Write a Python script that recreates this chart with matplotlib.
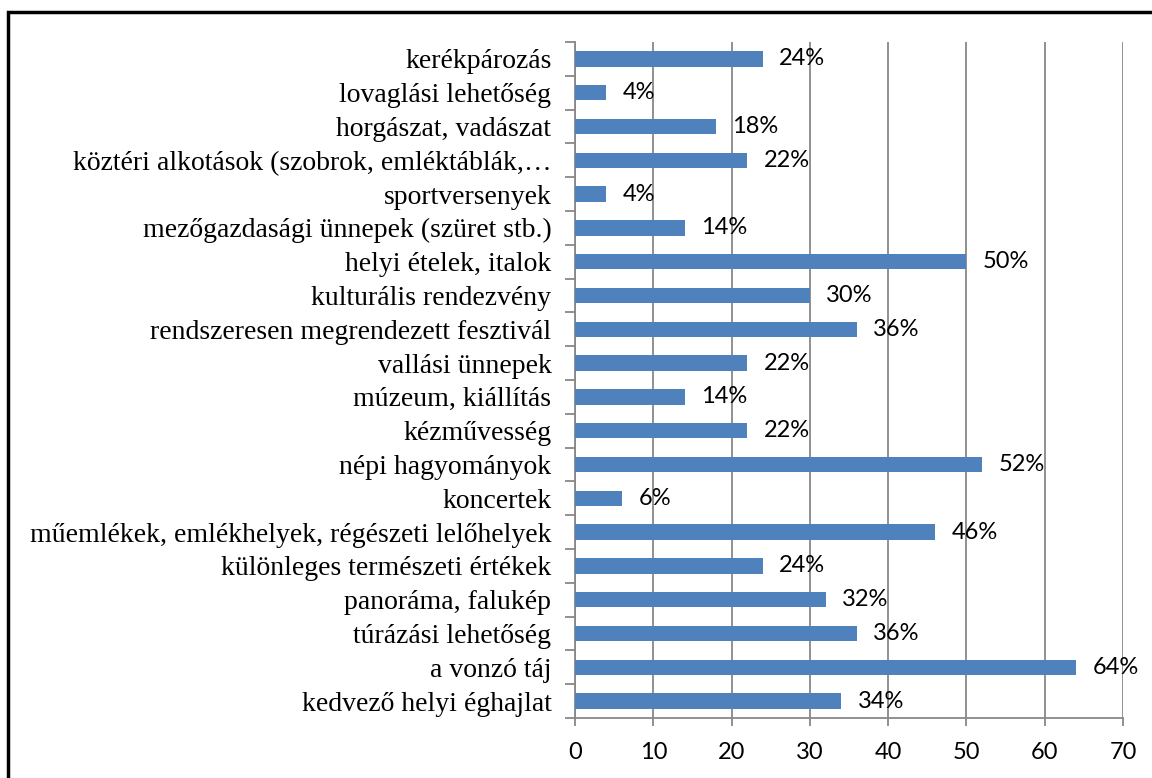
import matplotlib
matplotlib.use("Agg")
import matplotlib.pyplot as plt
from matplotlib.patches import Rectangle
from matplotlib.ticker import FixedLocator

categories = [
    "kedvező helyi éghajlat",
    "a vonzó táj",
    "túrázási lehetőség",
    "panoráma, falukép",
    "különleges természeti értékek",
    "műemlékek, emlékhelyek, régészeti lelőhelyek",
    "koncertek",
    "népi hagyományok",
    "kézművesség",
    "múzeum, kiállítás",
    "vallási ünnepek",
    "rendszeresen megrendezett fesztivál",
    "kulturális rendezvény",
    "helyi ételek, italok",
    "mezőgazdasági ünnepek (szüret stb.)",
    "sportversenyek",
    "köztéri alkotások (szobrok, emléktáblák,…",
    "horgászat, vadászat",
    "lovaglási lehetőség",
    "kerékpározás",
]
values = [34, 64, 36, 32, 24, 46, 6, 52, 22, 14, 22, 36, 30, 50, 14, 4, 22, 18, 4, 24]
value_labels = [f"{v}%" for v in values]
x_ticks = [0, 10, 20, 30, 40, 50, 60, 70]

W, H = 1152, 778
fig = plt.figure(figsize=(W / 100, H / 100), dpi=100)
ax = fig.add_axes([575 / W, 1 - 718 / H, (1123 - 575) / W, (718 - 42) / H])

n = len(categories)
ypos = list(range(n))
ax.barh(ypos, values, height=0.45, color="#4F81BD", zorder=3)
ax.set_ylim(-0.5, n - 0.5)
ax.set_xlim(0, 70)

for y, v, lab in zip(ypos, values, value_labels):
    ax.text(v + 2.1, y, lab, va="center", ha="left", fontsize=17,
            family=["Lato", "DejaVu Sans"], color="black", zorder=4)

ax.set_yticks(ypos)
ax.set_yticklabels(categories, fontsize=20, family=["Liberation Serif", "DejaVu Serif"])
ax.yaxis.set_minor_locator(FixedLocator([i - 0.5 for i in range(n + 1)]))
ax.tick_params(axis="y", which="major", length=0, pad=17)
ax.tick_params(axis="y", which="minor", length=7, width=1.3, color="#888888")

ax.xaxis.set_major_locator(FixedLocator(x_ticks))
ax.set_xticklabels([str(t) for t in x_ticks], fontsize=17, family=["Lato", "DejaVu Sans"])
ax.tick_params(axis="x", which="major", length=6, width=1.3, color="#888888", pad=11)

ax.grid(axis="x", color="#888888", linewidth=1.3, zorder=0)
for side in ["top", "right"]:
    ax.spines[side].set_visible(False)
for side in ["left", "bottom"]:
    ax.spines[side].set_color("#888888")
    ax.spines[side].set_linewidth(1.3)

# outer frame (extends past right and bottom edges)
fig.patches.append(Rectangle((8 / W, -0.1), 1.2, 1 - 12 / H + 0.1,
                             transform=fig.transFigure, fill=False,
                             edgecolor="black", linewidth=2.5))

fig.savefig("out.png", dpi=100)
